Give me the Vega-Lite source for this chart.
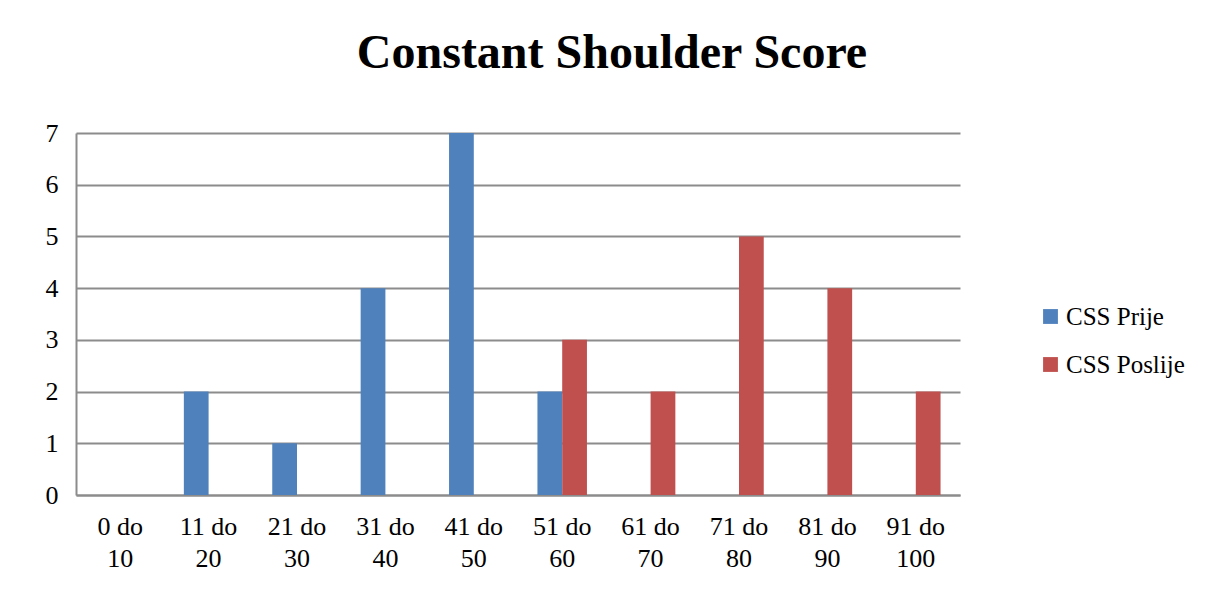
{
  "$schema": "https://vega.github.io/schema/vega-lite/v6.json",
  "width": 884,
  "height": 362,
  "autosize": {"type": "none"},
  "padding": {"left": 76, "top": 133, "right": 256, "bottom": 102},
  "background": "white",
  "title": {
    "text": "Constant Shoulder Score",
    "font": "Liberation Serif",
    "fontSize": 48,
    "fontWeight": "bold",
    "color": "#000000",
    "anchor": "middle",
    "dx": 94,
    "offset": 42
  },
  "data": {
    "values": [
      {"range": "0 do 10", "series": "CSS Prije", "value": 0},
      {"range": "0 do 10", "series": "CSS Poslije", "value": 0},
      {"range": "11 do 20", "series": "CSS Prije", "value": 2},
      {"range": "11 do 20", "series": "CSS Poslije", "value": 0},
      {"range": "21 do 30", "series": "CSS Prije", "value": 1},
      {"range": "21 do 30", "series": "CSS Poslije", "value": 0},
      {"range": "31 do 40", "series": "CSS Prije", "value": 4},
      {"range": "31 do 40", "series": "CSS Poslije", "value": 0},
      {"range": "41 do 50", "series": "CSS Prije", "value": 7},
      {"range": "41 do 50", "series": "CSS Poslije", "value": 0},
      {"range": "51 do 60", "series": "CSS Prije", "value": 2},
      {"range": "51 do 60", "series": "CSS Poslije", "value": 3},
      {"range": "61 do 70", "series": "CSS Prije", "value": 0},
      {"range": "61 do 70", "series": "CSS Poslije", "value": 2},
      {"range": "71 do 80", "series": "CSS Prije", "value": 0},
      {"range": "71 do 80", "series": "CSS Poslije", "value": 5},
      {"range": "81 do 90", "series": "CSS Prije", "value": 0},
      {"range": "81 do 90", "series": "CSS Poslije", "value": 4},
      {"range": "91 do 100", "series": "CSS Prije", "value": 0},
      {"range": "91 do 100", "series": "CSS Poslije", "value": 2}
    ]
  },
  "mark": {"type": "bar"},
  "encoding": {
    "x": {
      "field": "range",
      "type": "nominal",
      "sort": null,
      "title": null,
      "scale": {"paddingInner": 0.44, "paddingOuter": 0.22},
      "axis": {
        "labelAngle": 0,
        "labelFont": "Liberation Serif",
        "labelFontSize": 26,
        "labelColor": "#000000",
        "labelPadding": 18,
        "labelLineHeight": 32,
        "labelExpr": "[substring(datum.label, 0, indexof(datum.label, 'do') + 2), substring(datum.label, indexof(datum.label, 'do') + 3)]",
        "ticks": false,
        "domainColor": "#8c8c8c",
        "domainWidth": 2,
        "grid": false
      }
    },
    "xOffset": {
      "field": "series",
      "type": "nominal",
      "sort": ["CSS Prije", "CSS Poslije"]
    },
    "y": {
      "field": "value",
      "type": "quantitative",
      "title": null,
      "scale": {"domain": [0, 7], "nice": false},
      "axis": {
        "values": [0, 1, 2, 3, 4, 5, 6, 7],
        "labelFont": "Liberation Serif",
        "labelFontSize": 26,
        "labelColor": "#000000",
        "labelPadding": 18,
        "ticks": false,
        "domainColor": "#8c8c8c",
        "domainWidth": 2,
        "gridColor": "#8c8c8c",
        "gridWidth": 2
      }
    },
    "color": {
      "field": "series",
      "type": "nominal",
      "sort": ["CSS Prije", "CSS Poslije"],
      "scale": {"domain": ["CSS Prije", "CSS Poslije"], "range": ["#4F81BD", "#C0504D"]},
      "legend": {
        "title": null,
        "orient": "none",
        "legendX": 962,
        "legendY": 171,
        "symbolType": "square",
        "symbolSize": 220,
        "symbolStrokeWidth": 0,
        "labelFont": "Liberation Serif",
        "labelFontSize": 25,
        "labelColor": "#000000",
        "labelOffset": 3,
        "rowPadding": 22
      }
    }
  },
  "config": {
    "view": {"stroke": null}
  }
}
